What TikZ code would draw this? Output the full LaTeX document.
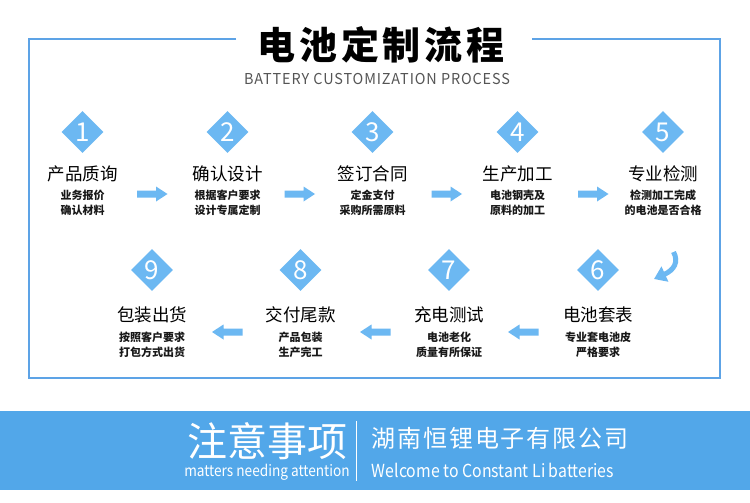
\documentclass[tikz,border=0pt]{standalone}
\usepackage{fontspec}
\usetikzlibrary{shapes.geometric,arrows.meta}
\newfontfamily\cjk{Noto Sans CJK SC}
\newfontfamily\cjkT{Noto Sans CJK SC}[LetterSpace=10]
\newfontfamily\cjkS{Noto Sans CJK SC}[LetterSpace=6,FakeStretch=0.96]
\newfontfamily\cjkC{Noto Sans CJK SC}[LetterSpace=8]
\newfontfamily\cjkN{Noto Sans CJK SC}[FakeStretch=0.88]
\definecolor{frameblue}{HTML}{5DA3E6}
\definecolor{diablue}{HTML}{6CB8F2}
\definecolor{bannerblue}{HTML}{52A7E9}
\definecolor{subgray}{HTML}{555555}
\tikzset{
  dia/.style={diamond, aspect=1, fill=diablue, minimum width=42pt, minimum height=42pt, inner sep=0pt,
    text=white, font=\cjk\fontsize{26}{26}\selectfont},
  ttl/.style={font=\cjk\fontsize{17.5}{17.5}\selectfont, text=black, inner sep=0pt},
  dsc/.style={font=\cjk\bfseries\fontsize{11}{15}\selectfont, text=black!90, align=center, inner sep=0pt},
  rarrow/.pic={\fill[diablue] (-15,-3.5) -- (4,-3.5) -- (4,-7.5) -- (15.5,0) -- (4,7.5) -- (4,3.5) -- (-15,3.5) -- cycle;},
  larrow/.pic={\fill[diablue] (15,-3.5) -- (-4,-3.5) -- (-4,-7.5) -- (-15.5,0) -- (-4,7.5) -- (-4,3.5) -- (15,3.5) -- cycle;}
}
\begin{document}
\begin{tikzpicture}[x=1pt,y=-1pt]
\useasboundingbox (0,0) rectangle (750,503);
\fill[white] (0,0) rectangle (750,503);
% frame
\draw[frameblue, line width=1.5pt] (236,39) -- (29,39) -- (29,378) -- (720,378) -- (720,39) -- (532,39);
% titles
\node[font=\cjkT\bfseries\fontsize{38}{38}\selectfont, inner sep=0pt] (title) at (381,45) {电池定制流程};
\node[font=\cjkS\fontsize{15}{15}\selectfont, text=subgray, inner sep=0pt] (subtitle) at (377,79) {BATTERY CUSTOMIZATION PROCESS};
% row 1
\node[dia] (d1) at (82.5,132) {1};
\node[dia] (d2) at (227.5,132) {2};
\node[dia] (d3) at (372.5,132) {3};
\node[dia] (d4) at (517.5,132) {4};
\node[dia] (d5) at (663,132) {5};
\node[ttl] (t1) at (82.5,174) {产品质询};
\node[ttl] (t2) at (227.5,174) {确认设计};
\node[ttl] (t3) at (372.5,174) {签订合同};
\node[ttl] (t4) at (517.5,174) {生产加工};
\node[ttl] (t5) at (663,174) {专业检测};
\node[dsc] (s1) at (82.5,202.5) {业务报价\\确认材料};
\node[dsc] (s2) at (227.5,202.5) {根据客户要求\\设计专属定制};
\node[dsc] (s3) at (372.5,202.5) {定金支付\\采购所需原料};
\node[dsc] (s4) at (517.5,202.5) {电池钢壳及\\原料的加工};
\node[dsc] (s5) at (663,202.5) {检测加工完成\\的电池是否合格};
\pic at (152,194) {rarrow};
\pic at (299.5,194) {rarrow};
\pic at (446.5,194) {rarrow};
\pic at (593,194) {rarrow};
% row 2
\node[dia] (d9) at (152,270) {9};
\node[dia] (d8) at (300.5,270) {8};
\node[dia] (d7) at (449,270) {7};
\node[dia] (d6) at (598,270) {6};
\node[ttl] (t9) at (152,315) {包装出货};
\node[ttl] (t8) at (300.5,315) {交付尾款};
\node[ttl] (t7) at (449,315) {充电测试};
\node[ttl] (t6) at (598,315) {电池套表};
\node[dsc] (s9) at (152,344.5) {按照客户要求\\打包方式出货};
\node[dsc] (s8) at (300.5,344.5) {产品包装\\生产完工};
\node[dsc] (s7) at (449,344.5) {电池老化\\质量有所保证};
\node[dsc] (s6) at (598,344.5) {专业套电池皮\\严格要求};
\pic at (227.5,332) {larrow};
\pic at (375.5,332) {larrow};
\pic at (523.5,332) {larrow};
\coordinate (ca) at (673.5,252);
\coordinate (cb) at (654,279);
\draw[diablue, line width=5pt, -{Triangle[width=16pt,length=12pt]}] (ca) .. controls (679,262) and (674,270) .. (cb);
% banner
\fill[bannerblue] (0,411) rectangle (750,490);
\node[font=\cjk\fontsize{40}{40}\selectfont, text=white, inner sep=0pt] (b1) at (267,441) {注意事项};
\node[font=\cjkN\fontsize{15.5}{15.5}\selectfont, text=white, inner sep=0pt] (b2) at (267,472) {matters needing attention};
\coordinate (va) at (356,421);
\coordinate (vb) at (356,481);
\draw[white, line width=1pt] (va) -- (vb);
\node[font=\cjkC\fontsize{24}{24}\selectfont, text=white, inner sep=0pt] (b3) at (500,438) {湖南恒锂电子有限公司};
\node[font=\cjkN\fontsize{18}{18}\selectfont, text=white, inner sep=0pt] (b4) at (493,470) {Welcome to Constant Li batteries};
\end{tikzpicture}
\end{document}
